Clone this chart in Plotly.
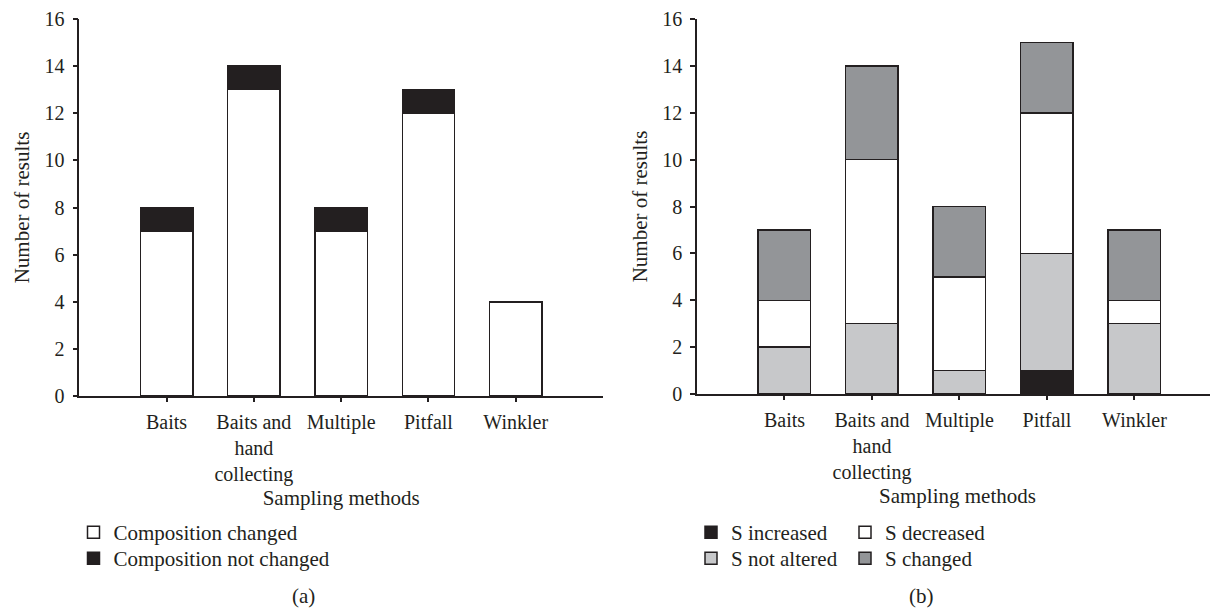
import plotly.graph_objects as go

categories = ["Baits", "Baits and<br>hand<br>collecting", "Multiple", "Pitfall", "Winkler"]

# Panel (a)
comp_changed = [7, 13, 7, 12, 4]
comp_not_changed = [1, 1, 1, 1, 0]

# Panel (b)
s_increased = [0, 0, 0, 1, 0]
s_not_altered = [2, 3, 1, 5, 3]
s_decreased = [2, 7, 4, 6, 1]
s_changed = [3, 4, 3, 3, 3]

y_ticks = [0, 2, 4, 6, 8, 10, 12, 14, 16]

INK = "#231f20"
WHITE = "#ffffff"
LIGHT = "#c7c8ca"
DARK = "#939598"
FONT = "Liberation Serif"
FS_TICK = 20
FS = 21

# page has an 8px body margin; figure is sized to fit the window
OFF = 8
FW, FH = 1210, 603


def fx(px):
    return (px - OFF) / FW


def fy(py):
    return 1 - (py - OFF) / FH


fig = go.Figure()


def bar(name, vals, color, xa, ya, legend):
    fig.add_trace(go.Bar(
        x=categories, y=vals, name=name, xaxis=xa, yaxis=ya, legend=legend,
        marker=dict(color=color, line=dict(color=INK, width=1.5)),
        hoverinfo="skip",
    ))


bar("Composition changed", comp_changed, WHITE, "x", "y", "legend")
bar("Composition not changed", comp_not_changed, INK, "x", "y", "legend4")

bar("S increased", s_increased, INK, "x2", "y2", "legend2")
bar("S not altered", s_not_altered, LIGHT, "x2", "y2", "legend3")
bar("S decreased", s_decreased, WHITE, "x2", "y2", "legend2")
bar("S changed", s_changed, DARK, "x2", "y2", "legend3")


def xaxis(domain, rng):
    return dict(
        domain=domain, type="category", range=rng,
        showline=True, linecolor=INK, linewidth=1.5,
        ticks="outside", ticklen=4, tickcolor=INK, tickwidth=1.5,
        showgrid=False, zeroline=False,
        tickfont=dict(family=FONT, size=FS_TICK, color=INK),
        ticklabelstandoff=3,
        title=dict(text="Sampling methods", font=dict(family=FONT, size=FS, color=INK), standoff=0),
        automargin=False, fixedrange=True,
    )


def yaxis(domain, anchor):
    return dict(
        domain=domain, anchor=anchor, range=[0, 16], tickvals=y_ticks,
        showline=True, linecolor=INK, linewidth=1.5,
        ticks="outside", ticklen=5, tickcolor=INK, tickwidth=1.5,
        showgrid=False, zeroline=False,
        tickfont=dict(family=FONT, size=FS_TICK, color=INK),
        ticklabelstandoff=4, ticklabeloverflow="allow",
        title=dict(text="Number of results", font=dict(family=FONT, size=FS, color=INK), standoff=9),
        automargin=False, fixedrange=True,
    )


legend_common = dict(
    font=dict(family=FONT, size=FS, color=INK),
    bgcolor="rgba(0,0,0,0)", borderwidth=0,
    xanchor="left", yanchor="top", traceorder="normal",
    itemclick=False, itemdoubleclick=False,
)

fig.update_layout(
    width=FW, height=FH,
    margin=dict(l=0, r=0, t=0, b=0),
    paper_bgcolor="white", plot_bgcolor="white",
    barmode="stack", bargap=0.4,
    showlegend=True,
    xaxis=dict(**xaxis([fx(79.3), fx(603)], [-1, 5]), anchor="y"),
    yaxis=yaxis([fy(396), fy(19)], "x"),
    xaxis2=dict(**xaxis([fx(697), 1.0], [-1, 4.955]), anchor="y2"),
    yaxis2=yaxis([fy(394), fy(19)], "x2"),
    legend=dict(**legend_common, x=fx(73.5), y=fy(512), orientation="h"),
    legend4=dict(**legend_common, x=fx(73.5), y=fy(538), orientation="h"),
    legend2=dict(**legend_common, x=fx(691), y=fy(512), orientation="h", entrywidth=109),
    legend3=dict(**legend_common, x=fx(691), y=fy(538), orientation="h", entrywidth=109),
    annotations=[
        dict(text="(a)", x=fx(303), y=fy(596), xref="paper", yref="paper",
             xanchor="center", yanchor="middle",
             showarrow=False, font=dict(family=FONT, size=FS, color=INK)),
        dict(text="(b)", x=fx(922), y=fy(596), xref="paper", yref="paper",
             xanchor="center", yanchor="middle",
             showarrow=False, font=dict(family=FONT, size=FS, color=INK)),
    ],
)

fig.write_html("out.html")
